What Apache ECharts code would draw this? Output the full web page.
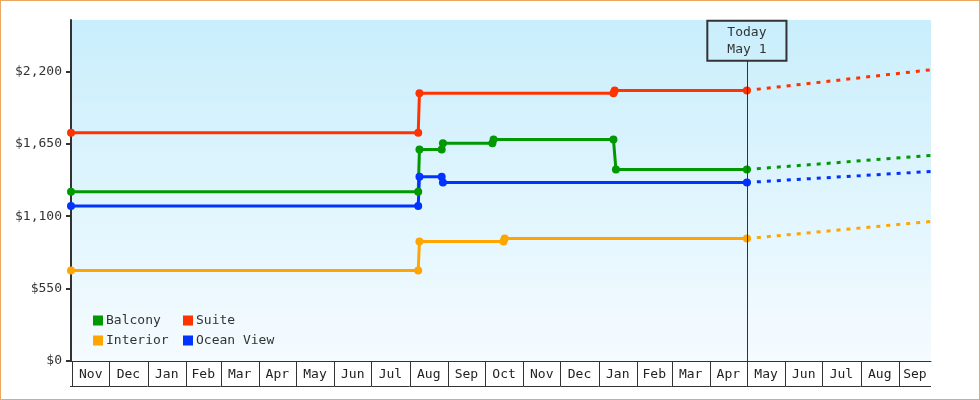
<!DOCTYPE html>
<html>
<head>
<meta charset="utf-8">
<script src="https://cdn.jsdelivr.net/npm/echarts@6/dist/echarts.min.js"></script>
<style>
html,body{margin:0;padding:0;background:#fff;}
#wrap{position:relative;width:980px;height:400px;}
#chart{width:980px;height:400px;}
#frame{position:absolute;left:0;top:0;width:980px;height:400px;box-sizing:border-box;border:1px solid #eaa962;pointer-events:none;}
</style>
</head>
<body>
<div id="wrap"><div id="chart"></div><div id="frame"></div></div>
<script>
// ---------- data ----------
const seriesNames = ['Balcony', 'Suite', 'Interior', 'Ocean View'];

const balcony = [
  ['2021-10-31', 1286], ['2022-08-08', 1286], ['2022-08-09', 1607],
  ['2022-08-27', 1607], ['2022-08-28', 1653], ['2022-10-07', 1653],
  ['2022-10-08', 1683], ['2023-01-13', 1683], ['2023-01-15', 1455],
  ['2023-05-01', 1455]
];
const suite = [
  ['2021-10-31', 1734], ['2022-08-08', 1734], ['2022-08-09', 2033],
  ['2023-01-13', 2033], ['2023-01-14', 2055], ['2023-05-01', 2055]
];
const interior = [
  ['2021-10-31', 687], ['2022-08-08', 687], ['2022-08-09', 908],
  ['2022-10-16', 908], ['2022-10-17', 930], ['2023-05-01', 930]
];
const oceanView = [
  ['2021-10-31', 1178], ['2022-08-08', 1178], ['2022-08-09', 1399],
  ['2022-08-27', 1399], ['2022-08-28', 1356], ['2023-05-01', 1356]
];

const balconyForecast   = [['2023-05-01', 1455], ['2023-09-27', 1561]];
const suiteForecast     = [['2023-05-01', 2055], ['2023-09-27', 2212]];
const interiorForecast  = [['2023-05-01', 930],  ['2023-09-27', 1060]];
const oceanViewForecast = [['2023-05-01', 1356], ['2023-09-27', 1440]];

const monthLabels = ['Nov','Dec','Jan','Feb','Mar','Apr','May','Jun','Jul','Aug','Sep','Oct',
                     'Nov','Dec','Jan','Feb','Mar','Apr','May','Jun','Jul','Aug','Sep'];
const firstMonth = '2021-11-01';
const axisStart = '2021-10-31';
const axisEnd = '2023-09-27';
const todayDate = '2023-05-01';
const todayText = 'Today\nMay 1';
const yTicks = [0, 550, 1100, 1650, 2200];
const yMax = 2590;

// ---------- helpers ----------
function ts(s) { const p = s.split('-').map(Number); return new Date(p[0], p[1] - 1, p[2]).getTime(); }
function conv(arr) { return arr.map(d => [ts(d[0]), d[1]]); }

const fp = firstMonth.split('-').map(Number);
const monthCells = monthLabels.map((lab, i) => {
  const s = new Date(fp[0], fp[1] - 1 + i, 1).getTime();
  const e = i === monthLabels.length - 1 ? ts(axisEnd) : new Date(fp[0], fp[1] + i, 1).getTime();
  return [s, e];
});

const MONO = '"DejaVu Sans Mono", "Liberation Mono", monospace';
const colors = {
  'Balcony': '#009900', 'Suite': '#ff3300', 'Interior': '#ffa500', 'Ocean View': '#0033ff'
};
const solidData = { 'Balcony': balcony, 'Suite': suite, 'Interior': interior, 'Ocean View': oceanView };
const fcData = { 'Balcony': balconyForecast, 'Suite': suiteForecast, 'Interior': interiorForecast, 'Ocean View': oceanViewForecast };

const series = [];
seriesNames.forEach((name, idx) => {
  const s = {
    name: name, type: 'line', data: conv(solidData[name]),
    symbol: 'circle', symbolSize: 8, showSymbol: true,
    lineStyle: { width: 3, color: colors[name] },
    itemStyle: { color: colors[name] },
    emphasis: { disabled: true }, z: 3
  };
  if (idx === 0) {
    s.markLine = {
      silent: true, symbol: 'none', animation: false,
      lineStyle: { color: '#333', width: 1, type: 'solid' },
      label: {
        show: true, position: 'end', distance: 0, formatter: todayText,
        fontFamily: MONO, fontSize: 13, color: '#333', lineHeight: 17,
        padding: [3, 20, 3, 20], borderColor: '#333', borderWidth: 1,
        backgroundColor: 'rgba(0,0,0,0)'
      },
      data: [[{ coord: [ts(todayDate), 0] }, { coord: [ts(todayDate), 2280] }]]
    };
  }
  series.push(s);
});
seriesNames.forEach(name => {
  series.push({
    name: name, type: 'line', data: conv(fcData[name]),
    showSymbol: false, symbol: 'none',
    lineStyle: { width: 3, color: colors[name], type: [4, 6] },
    itemStyle: { color: colors[name] },
    emphasis: { disabled: true }, z: 2
  });
});
series.push({
  type: 'custom', silent: true, clip: false, z: 5,
  data: monthCells,
  encode: { x: [0, 1] },
  renderItem: function (params, api) {
    const a = api.coord([api.value(0), 0]);
    const b = api.coord([api.value(1), 0]);
    const y0 = a[1], h = 25;
    const left = params.dataIndex === 0 ? params.coordSys.x - 1 : a[0];
    return {
      type: 'group',
      children: [
        { type: 'line', shape: { x1: Math.round(a[0]) + 0.5, y1: y0, x2: Math.round(a[0]) + 0.5, y2: y0 + h }, style: { stroke: '#333', lineWidth: 1 } },
        { type: 'line', shape: { x1: left, y1: Math.round(y0 + h) + 0.5, x2: b[0], y2: Math.round(y0 + h) + 0.5 }, style: { stroke: '#333', lineWidth: 1 } },
        { type: 'text', style: { x: (a[0] + b[0]) / 2, y: y0 + h / 2 + 1, text: monthLabels[params.dataIndex], align: 'center', verticalAlign: 'middle', font: '13px ' + MONO, fill: '#222' } }
      ]
    };
  }
});

const chart = echarts.init(document.getElementById('chart'), null, { renderer: 'canvas' });
chart.setOption({
  animation: false,
  backgroundColor: '#ffffff',
  grid: {
    left: 71, right: 49, top: 20, bottom: 39, show: true, borderWidth: 0,
    backgroundColor: new echarts.graphic.LinearGradient(0, 0, 0, 1, [
      { offset: 0, color: '#c9eefc' }, { offset: 1, color: '#f5fbff' }
    ])
  },
  legend: [
    {
      orient: 'vertical', left: 93, top: 314, padding: 0, itemGap: 7,
      itemWidth: 10, itemHeight: 10, icon: 'rect', selectedMode: false,
      data: ['Balcony', 'Interior'],
      textStyle: { fontFamily: MONO, fontSize: 13, color: '#333', padding: [0, 0, 0, -2] }
    },
    {
      orient: 'vertical', left: 183, top: 314, padding: 0, itemGap: 7,
      itemWidth: 10, itemHeight: 10, icon: 'rect', selectedMode: false,
      data: ['Suite', 'Ocean View'],
      textStyle: { fontFamily: MONO, fontSize: 13, color: '#333', padding: [0, 0, 0, -2] }
    }
  ],
  xAxis: {
    type: 'time', min: ts(axisStart), max: ts(axisEnd),
    axisLine: { show: true, lineStyle: { color: '#333', width: 1 } },
    axisTick: { show: false }, axisLabel: { show: false }, splitLine: { show: false }
  },
  yAxis: {
    type: 'value', min: 0, max: yMax,
    axisLine: { show: true, lineStyle: { color: '#333', width: 2 } },
    axisTick: { show: true, length: 5, customValues: yTicks, lineStyle: { color: '#333', width: 2 } },
    axisLabel: {
      customValues: yTicks, margin: 9, fontFamily: MONO, fontSize: 13, color: '#333',
      formatter: v => '$' + Number(v).toLocaleString('en-US')
    },
    splitLine: { show: false }
  },
  series: series
});
</script>
</body>
</html>
